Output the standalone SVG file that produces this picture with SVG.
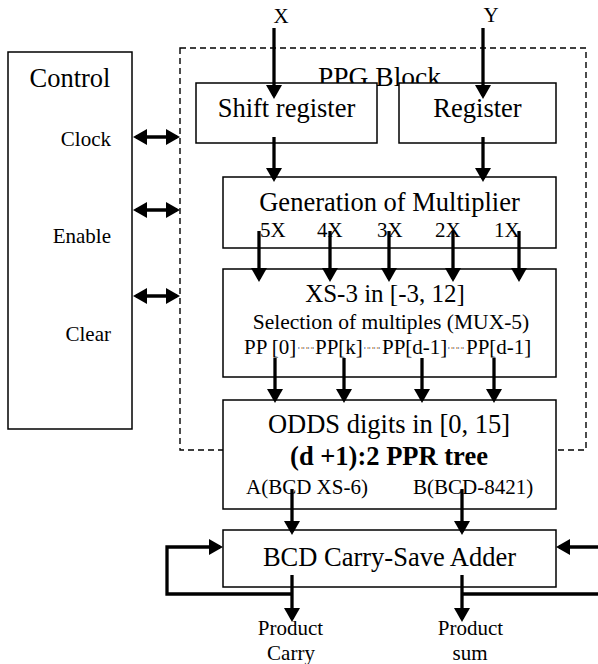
<svg xmlns="http://www.w3.org/2000/svg" width="598" height="664" viewBox="0 0 598 664">
<style>
.box{fill:#fff;stroke:#000;stroke-width:1.5}
.dash{fill:none;stroke:#000;stroke-width:1.4;stroke-dasharray:6 4}
.t{fill:#000}
.big{font-size:26.5px}
.sm{font-size:21px}
.mid{text-anchor:middle}
.end{text-anchor:end}
.b{font-weight:bold}
.w{fill:none;stroke:#000;stroke-width:3.3}
.arr{marker-end:url(#ah)}
.dbl{marker-start:url(#ah);marker-end:url(#ah)}
.dotb{stroke:#6f8fca;stroke-width:1.6;stroke-dasharray:1.6 3.2}
.doto{stroke:#e39a45;stroke-width:1.6;stroke-dasharray:1.6 3.2;stroke-dashoffset:1.6}
</style>
<defs>
<marker id="ah" markerUnits="userSpaceOnUse" markerWidth="14" markerHeight="16" viewBox="0 0 14 16" refX="11" refY="8" orient="auto-start-reverse">
<path d="M0,0 L14,8 L0,16 z" fill="#000"/>
</marker>
</defs>
<g font-family="Liberation Serif, Times New Roman, DejaVu Serif, serif">
<g id="ppg-block">
<rect class="dash" x="180" y="48" width="406" height="402"/>
<text class="t" x="318" y="86" font-size="27.5">PPG Block</text>
</g>

<g id="control">
<rect class="box" x="8" y="52" width="124" height="377"/>
<text class="t big mid" x="70" y="87">Control</text>
<text class="t sm end" x="111" y="146">Clock</text>
<text class="t sm end" x="111" y="243">Enable</text>
<text class="t sm end" x="111" y="341">Clear</text>
</g>

<g id="inputs">
<text class="t sm mid" x="281" y="23">X</text>
<text class="t sm mid" x="491" y="22">Y</text>
</g>

<g id="shift-register">
<rect class="box" x="196" y="83" width="181" height="60"/>
<text class="t big mid" x="286.5" y="117">Shift register</text>
</g>

<g id="register">
<rect class="box" x="399" y="83" width="157" height="60"/>
<text class="t big mid" x="477.5" y="117">Register</text>
</g>

<g id="generation">
<rect class="box" x="223" y="177" width="333" height="71"/>
<text class="t big mid" x="389.5" y="211">Generation of Multiplier</text>
<text class="t sm" x="260" y="237">5X</text>
<text class="t sm" x="317" y="237">4X</text>
<text class="t sm" x="377" y="237">3X</text>
<text class="t sm" x="435" y="237">2X</text>
<text class="t sm" x="494" y="237">1X</text>
</g>

<g id="xs3">
<rect class="box" x="223" y="269" width="333" height="108"/>
<text class="t mid" x="385" y="302" font-size="25">XS-3 in [-3, 12]</text>
<text class="t mid" x="391" y="329" font-size="21.5">Selection of multiples (MUX-5)</text>
<text class="t sm" x="244" y="354">PP [0]</text>
<text class="t sm" x="315" y="354">PP[k]</text>
<text class="t sm" x="382" y="354">PP[d-1]</text>
<text class="t sm" x="466" y="354">PP[d-1]</text>
<line class="dotb" x1="298" y1="348" x2="314" y2="348"/>
<line class="doto" x1="298" y1="348" x2="314" y2="348"/>
<line class="dotb" x1="364" y1="348" x2="381" y2="348"/>
<line class="doto" x1="364" y1="348" x2="381" y2="348"/>
<line class="dotb" x1="448" y1="348" x2="465" y2="348"/>
<line class="doto" x1="448" y1="348" x2="465" y2="348"/>
</g>

<g id="odds">
<rect class="box" x="223" y="400" width="333" height="109"/>
<text class="t big mid" x="389" y="433">ODDS digits in [0, 15]</text>
<text class="t big mid b" x="389" y="465">(d +1):2 PPR tree</text>
<text class="t sm" x="246" y="494">A(BCD XS-6)</text>
<text class="t sm" x="413" y="494">B(BCD-8421)</text>
</g>

<g id="csa">
<rect class="box" x="223" y="530" width="333" height="57"/>
<text class="t big mid" x="389.5" y="566">BCD Carry-Save Adder</text>
</g>

<g id="outputs">
<text class="t sm mid" x="290.5" y="635">Product</text>
<text class="t sm mid" x="291" y="660">Carry</text>
<text class="t sm mid" x="470.5" y="635">Product</text>
<text class="t sm mid" x="470" y="660">sum</text>
</g>
</g>
<g id="connectors">
<line class="w arr" x1="274" y1="28" x2="274" y2="96"/>
<line class="w arr" x1="483" y1="28" x2="483" y2="96"/>
<line class="w arr" x1="274" y1="137" x2="274" y2="179"/>
<line class="w arr" x1="483" y1="137" x2="483" y2="179"/>
<line class="w arr" x1="259" y1="231" x2="259" y2="279"/>
<line class="w arr" x1="330" y1="231" x2="330" y2="279"/>
<line class="w arr" x1="389" y1="231" x2="389" y2="279"/>
<line class="w arr" x1="453" y1="231" x2="453" y2="279"/>
<line class="w arr" x1="519" y1="231" x2="519" y2="279"/>
<line class="w arr" x1="275" y1="358" x2="275" y2="400"/>
<line class="w arr" x1="344" y1="358" x2="344" y2="400"/>
<line class="w arr" x1="422" y1="358" x2="422" y2="400"/>
<line class="w arr" x1="494" y1="358" x2="494" y2="400"/>
<line class="w arr" x1="292" y1="489" x2="292" y2="532"/>
<line class="w arr" x1="462" y1="489" x2="462" y2="532"/>
<line class="w arr" x1="292" y1="575" x2="292" y2="619"/>
<line class="w arr" x1="462" y1="575" x2="462" y2="619"/>
<polyline class="w arr" points="292,594 167,594 167,547 220,547"/>
<line class="w" x1="462" y1="594" x2="598" y2="594"/>
<line class="w arr" x1="598" y1="547" x2="559" y2="547"/>
<line class="w dbl" x1="136" y1="137" x2="177" y2="137"/>
<line class="w dbl" x1="136" y1="210" x2="177" y2="210"/>
<line class="w dbl" x1="136" y1="296" x2="177" y2="296"/>
</g>
</svg>
